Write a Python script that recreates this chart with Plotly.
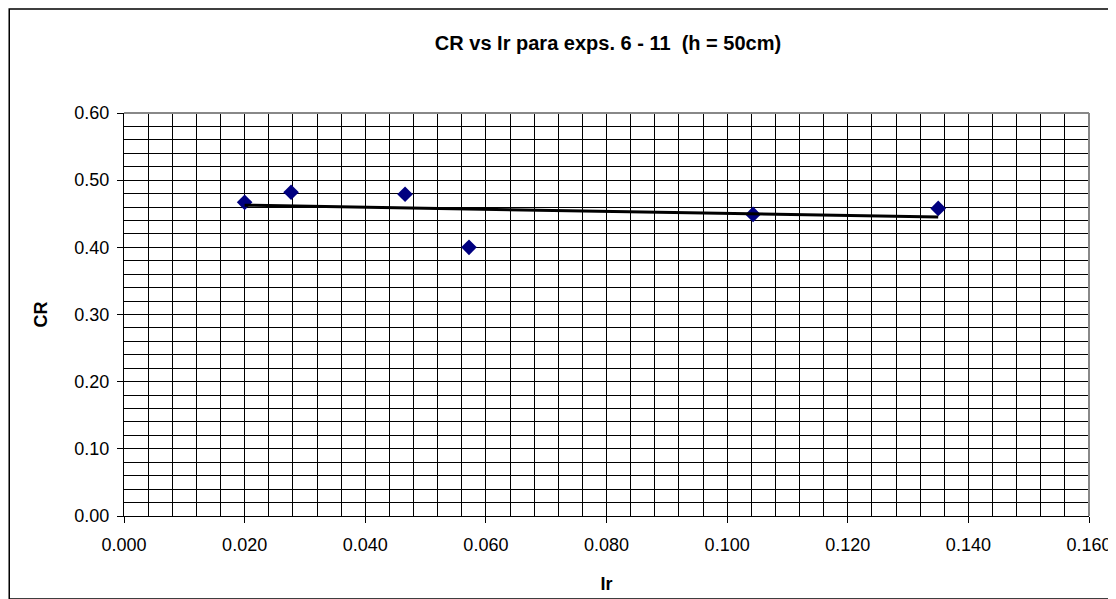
import numpy as np
import plotly.graph_objects as go

# Data
ir_values = [0.0200, 0.0277, 0.0466, 0.0572, 0.1043, 0.1350]
cr_values = [0.467, 0.482, 0.479, 0.400, 0.449, 0.458]

title_text = "CR vs Ir para exps. 6 - 11\u00a0\u00a0(h = 50cm)"
x_title = "Ir"
y_title = "CR"

# Linear trendline fitted from the data
slope, intercept = np.polyfit(ir_values, cr_values, 1)
trend_x = [min(ir_values), max(ir_values)]
trend_y = [slope * v + intercept for v in trend_x]

W, H = 1116, 599
L, R, T, B = 116, 1083, 105, 508

fig = go.Figure()
fig.add_trace(go.Scatter(x=ir_values, y=cr_values, mode="markers",
                         marker=dict(symbol="diamond", size=12, color="#000080",
                                     line=dict(width=0)),
                         showlegend=False))
fig.add_trace(go.Scatter(x=trend_x, y=trend_y, mode="lines",
                         line=dict(color="black", width=3), showlegend=False))

pw = R - L
ph = B - T

def px_to_paper_x(px):
    return (px - L) / pw

def px_to_paper_y(py):
    return (B - py) / ph

shapes = [
    # outer chart border
    dict(type="rect", xref="paper", yref="paper",
         x0=px_to_paper_x(1), x1=px_to_paper_x(1105),
         y0=px_to_paper_y(591), y1=px_to_paper_y(1),
         line=dict(color="black", width=1.5), layer="below"),
    # gray top and right borders of the plot area
    dict(type="line", xref="paper", yref="paper", x0=0, x1=1, y0=1, y1=1,
         line=dict(color="#888888", width=2), layer="above"),
    dict(type="line", xref="paper", yref="paper", x0=1, x1=1, y0=0, y1=1,
         line=dict(color="#888888", width=2), layer="above"),
]

fig.update_layout(
    width=W, height=H,
    margin=dict(l=L, r=W - R, t=T, b=H - B, pad=0),
    paper_bgcolor="white", plot_bgcolor="white",
    font=dict(family="Liberation Sans, Arial, sans-serif", size=18, color="black"),
    title=dict(text="<b>" + title_text + "</b>", x=600 / W, xanchor="center",
               y=1 - 35 / H, yanchor="middle", font=dict(size=20)),
    shapes=shapes,
    showlegend=False,
)

fig.update_xaxes(
    range=[0, 0.16], dtick=0.02, tick0=0, tickformat=".3f",
    showgrid=True, gridcolor="black", gridwidth=1,
    minor=dict(dtick=0.004, tick0=0, showgrid=True, gridcolor="black", gridwidth=1),
    showline=True, linecolor="black", linewidth=1,
    ticks="outside", ticklen=6, tickcolor="black",
    zeroline=False,
    title=dict(text="<b>" + x_title + "</b>", standoff=23, font=dict(size=18)),
    tickfont=dict(size=18),
    ticklabelstandoff=6,
)
fig.update_yaxes(
    range=[0, 0.6], dtick=0.1, tick0=0, tickformat=".2f",
    showgrid=True, gridcolor="black", gridwidth=1,
    minor=dict(dtick=0.02, tick0=0, showgrid=True, gridcolor="black", gridwidth=1),
    showline=True, linecolor="black", linewidth=1,
    ticks="outside", ticklen=6, tickcolor="black",
    zeroline=False,
    title=dict(text="<b>" + y_title + "</b>", standoff=22, font=dict(size=18)),
    tickfont=dict(size=18),
    ticklabelstandoff=4,
)

fig.write_html("out.html")
